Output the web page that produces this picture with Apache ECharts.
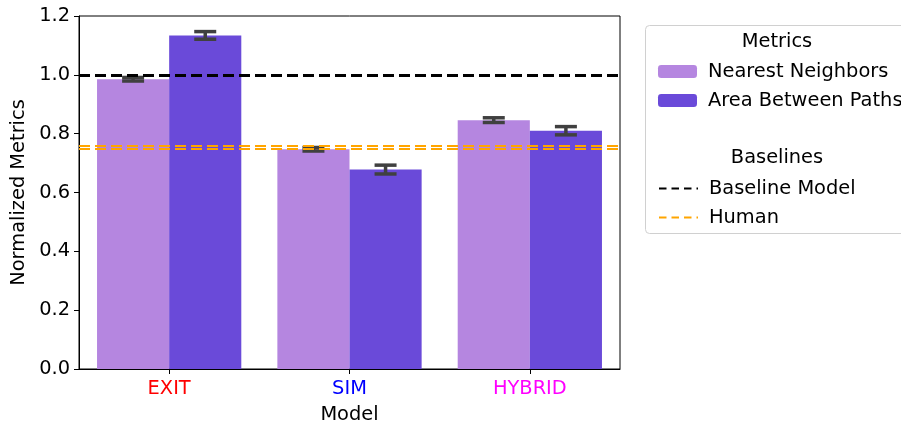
<!DOCTYPE html>
<html><head><meta charset="utf-8">
<script src="https://cdn.jsdelivr.net/npm/echarts@6/dist/echarts.min.js"></script>
<style>html,body{margin:0;padding:0;background:#fff}#c{width:901px;height:421px}</style>
</head><body><div id="c"></div>
<script>
const categories = ['EXIT', 'SIM', 'HYBRID'];
const categoryColors = ['#ff0000', '#0000ff', '#ff00ff'];
const nnValues = [0.985, 0.747, 0.846];
const nnErr = [0.006, 0.006, 0.008];
const abpValues = [1.134, 0.678, 0.810];
const abpErr = [0.013, 0.015, 0.014];
const baselineModelValues = [1.0];
const humanValues = [0.747, 0.764];
const yMin = 0, yMax = 1.2, yInterval = 0.2;

const FONT = 'DejaVu Sans';
const FS = 19.4;
const NN_COLOR = '#b586e0';
const ABP_COLOR = '#6a4ad9';
const ERR_COLOR = '#404040';

function errData(vals, errs) {
  return vals.map((v, i) => [i, v - errs[i], v + errs[i]]);
}
function errRender(offset) {
  return function (params, api) {
    const ci = api.value(0);
    const bw = api.size([1, 0])[0];
    const x = api.coord([ci, 0])[0] + offset * bw;
    const yLo = api.coord([ci, api.value(1)])[1];
    const yHi = api.coord([ci, api.value(2)])[1];
    const cap = 11;
    const st = { stroke: ERR_COLOR, lineWidth: 3.5 };
    return { type: 'group', children: [
      { type: 'line', shape: { x1: x, y1: yLo, x2: x, y2: yHi }, style: st },
      { type: 'line', shape: { x1: x - cap, y1: yLo, x2: x + cap, y2: yLo }, style: st },
      { type: 'line', shape: { x1: x - cap, y1: yHi, x2: x + cap, y2: yHi }, style: st }
    ]};
  };
}

const chart = echarts.init(document.getElementById('c'), null, { renderer: 'canvas' });
const option = {
  animation: false,
  textStyle: { fontFamily: FONT },
  grid: { left: 79, right: 281, top: 16, bottom: 52, outerBoundsMode: 'none', containLabel: false,
    show: true, borderColor: '#000', borderWidth: 1, backgroundColor: 'transparent' },
  xAxis: {
    type: 'category', data: categories,
    name: 'Model', nameLocation: 'middle', nameGap: 36,
    nameTextStyle: { fontFamily: FONT, fontSize: FS, color: '#000' },
    axisLine: { show: true, lineStyle: { color: '#000', width: 1 } },
    axisTick: { show: true, alignWithLabel: true, length: 5, lineStyle: { color: '#000' } },
    axisLabel: { fontFamily: FONT, fontSize: FS, margin: 10, color: (v, i) => categoryColors[categories.indexOf(v)] },
    splitLine: { show: false }
  },
  yAxis: {
    type: 'value', min: yMin, max: yMax, interval: yInterval,
    name: 'Normalized Metrics', nameLocation: 'middle', nameGap: 50, nameRotate: 90,
    nameTextStyle: { fontFamily: FONT, fontSize: FS, color: '#000' },
    axisLine: { show: true, lineStyle: { color: '#000', width: 1 } },
    axisTick: { show: true, length: 5, lineStyle: { color: '#000' } },
    axisLabel: { fontFamily: FONT, fontSize: FS, color: '#000', margin: 9, formatter: v => v.toFixed(1) },
    splitLine: { show: false }
  },
  legend: [
    { left: 653, top: 57, orient: 'vertical', itemWidth: 39, itemHeight: 13, itemGap: 10,
      data: ['Nearest Neighbors', 'Area Between Paths'],
      textStyle: { fontFamily: FONT, fontSize: FS, color: '#000', padding: [0, 0, 0, 6] } },
    { left: 653, top: 174, orient: 'vertical', itemWidth: 39, itemHeight: 13, itemGap: 10,
      itemStyle: { opacity: 0 },
      data: ['Baseline Model', 'Human'],
      textStyle: { fontFamily: FONT, fontSize: FS, color: '#000', padding: [0, 0, 0, 6] } }
  ],
  graphic: [
    { type: 'rect', left: 645, top: 25, z: -1, shape: { width: 270, height: 208, r: 4 }, style: { fill: '#fff', stroke: '#d0d0d0', lineWidth: 1 } },
    { type: 'text', x: 777, y: 42, style: { text: 'Metrics', font: FS + 'px "DejaVu Sans"', fill: '#000', align: 'center', verticalAlign: 'middle' } },
    { type: 'text', x: 777, y: 158, style: { text: 'Baselines', font: FS + 'px "DejaVu Sans"', fill: '#000', align: 'center', verticalAlign: 'middle' } }
  ],
  series: [
    { name: 'Nearest Neighbors', type: 'bar', data: nnValues, barGap: '0%', barCategoryGap: '20%',
      itemStyle: { color: NN_COLOR }, z: 2 },
    { name: 'Area Between Paths', type: 'bar', data: abpValues, barGap: '0%', barCategoryGap: '20%',
      itemStyle: { color: ABP_COLOR }, z: 2 },
    { name: 'nnErr', type: 'custom', data: errData(nnValues, nnErr), renderItem: errRender(-0.2), z: 3, silent: true },
    { name: 'abpErr', type: 'custom', data: errData(abpValues, abpErr), renderItem: errRender(0.2), z: 3, silent: true },
    { name: 'Baseline Model', type: 'line', data: [], symbol: 'none', color: '#000',
      lineStyle: { color: '#000', width: 3, type: [7.5, 5] }, z: 4,
      markLine: { silent: true, symbol: 'none', label: { show: false }, z: 4,
        lineStyle: { color: '#000', width: 3, type: [11, 5] },
        data: baselineModelValues.map(v => ({ yAxis: v })) } },
    { name: 'Human', type: 'line', data: [], symbol: 'none', color: '#ffa500',
      lineStyle: { color: '#ffa500', width: 3, type: [7.5, 5] }, z: 4,
      markLine: { silent: true, symbol: 'none', label: { show: false }, z: 4,
        lineStyle: { color: '#ffa500', width: 2.2, type: [11, 5] },
        data: humanValues.map(v => ({ yAxis: v })) } }
  ]
};
chart.setOption(option);
</script></body></html>
